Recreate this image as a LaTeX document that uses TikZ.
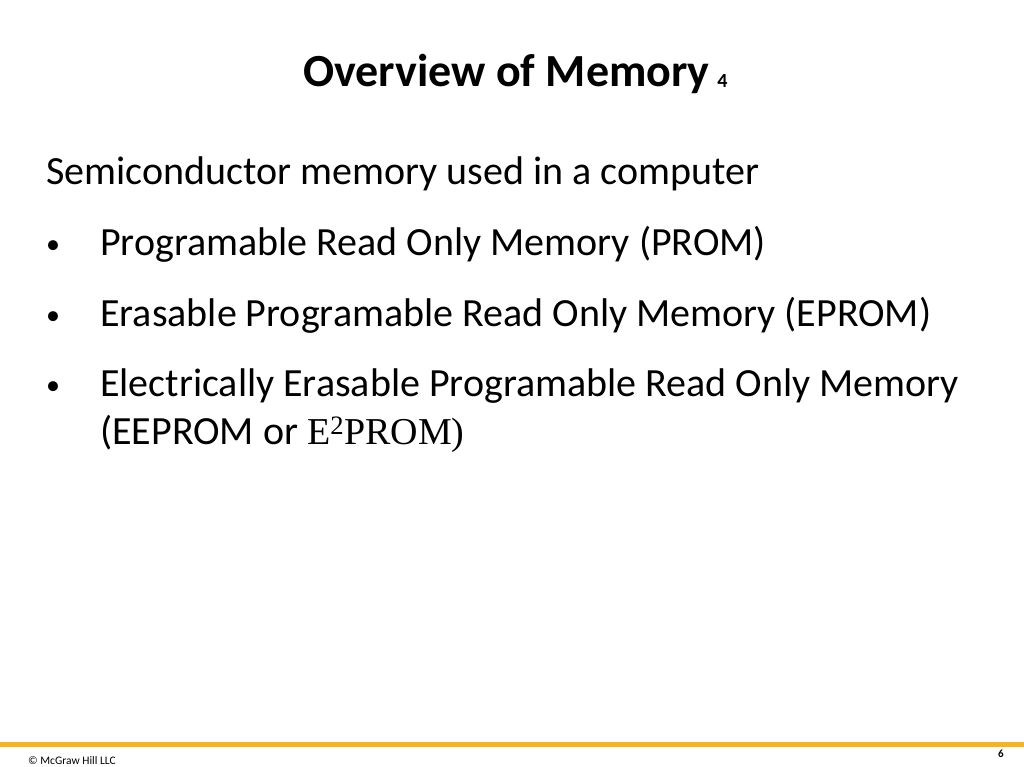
\documentclass[tikz,border=0pt]{standalone}
\usepackage{fontspec}
\setmainfont{Carlito}
\newfontfamily\timesf{Liberation Serif}
\definecolor{gold}{HTML}{F5B51A}
\begin{document}
\begin{tikzpicture}[x=1pt,y=-1pt,
  body/.style={anchor=base west,inner sep=0pt,font=\fontsize{40}{44}\selectfont},
  bul/.style={anchor=base west,inner sep=0pt,font=\fontsize{28}{32}\selectfont}]
\useasboundingbox (0,0) rectangle (1024,767);
\node[anchor=base west,inner sep=0pt,font=\bfseries\fontsize{46}{50}\selectfont] (title) at (303,87) {Overview of Memory\,\raisebox{-1pt}{\fontsize{20}{22}\selectfont 4}};
\node[body] (l0) at (46,185) {Semiconductor memory used in a computer};
\node[bul] (b1) at (46,253) {•};
\node[body] (l1) at (100,255) {Programable Read Only Memory (PROM)};
\node[bul] (b2) at (46,324) {•};
\node[body] (l2) at (100,326) {Erasable Programable Read Only Memory (EPROM)};
\node[bul] (b3) at (46,394) {•};
\node[body] (l3) at (100,396) {Electrically Erasable Programable Read Only Memory};
\node[body] (l4) at (100,444) {(EEPROM or {\timesf\fontsize{38}{40}\selectfont E\textsuperscript{2}PROM)}};
\fill[gold] (0,742) rectangle (1024,747);
\node[anchor=base west,inner sep=0pt,font=\fontsize{11.5}{13}\selectfont] (foot) at (28,764) {© McGraw Hill LLC};
\node[anchor=base east,inner sep=0pt,font=\bfseries\fontsize{11}{13}\selectfont] (pg) at (1004,757) {6};
\end{tikzpicture}
\end{document}
